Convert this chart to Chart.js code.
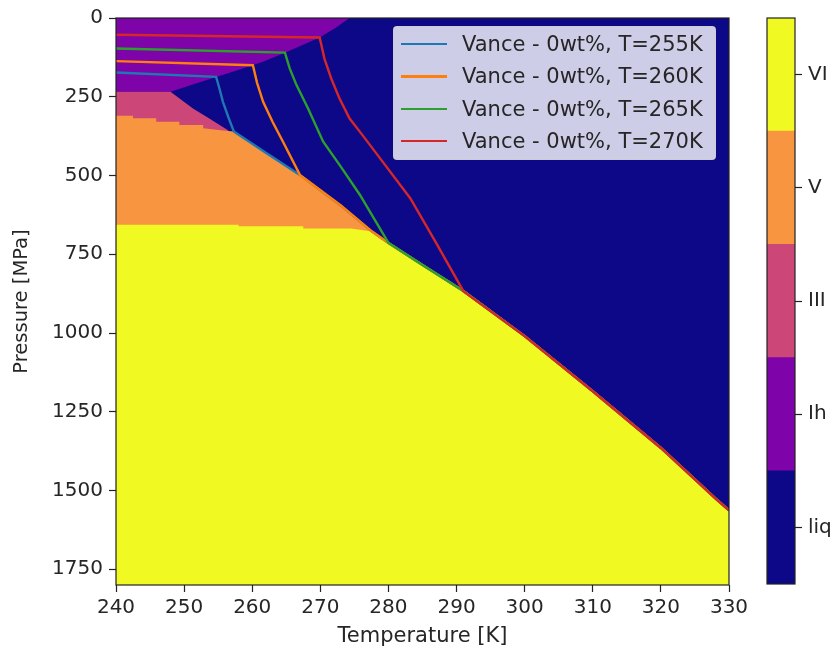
<!DOCTYPE html>
<html>
<head>
<meta charset="utf-8">
<script src="https://cdn.jsdelivr.net/npm/chart.js@4.4.1/dist/chart.umd.min.js"></script>
<style>
  body { margin: 0; background: #fff; }
  #wrap { position: relative; width: 837px; height: 657px; overflow: hidden; font-family: "DejaVu Sans", sans-serif; }
  #main { position: absolute; left: 0; top: 0; }
  #cbar { position: absolute; left: 740px; top: 0; }
  #legend {
    position: absolute; left: 393px; top: 26px; width: 321px; height: 132px;
    background: rgba(255,255,255,0.8); border: 1px solid rgba(204,204,204,0.8); border-radius: 4px;
  }
  .row { position: absolute; left: 0; height: 32px; display: flex; align-items: center;
         font-size: 21px; color: #262626; white-space: nowrap; }
  .swatch { width: 46px; height: 2.5px; margin-left: 7px; margin-right: 15px; }
</style>
</head>
<body>
<div id="wrap">
  <canvas id="main" width="760" height="657"></canvas>
  <canvas id="cbar" width="97" height="657"></canvas>
  <div id="legend"></div>
</div>
<script>
// ---- axes ----
const T_MIN = 240, T_MAX = 330;
const P_MIN = 0, P_MAX = 1800;
const T_TICKS = [240, 250, 260, 270, 280, 290, 300, 310, 320, 330];
const P_TICKS = [0, 250, 500, 750, 1000, 1250, 1500, 1750];

// ---- phases (colorbar order, bottom to top) ----
const PHASES = ["liq", "Ih", "III", "V", "VI"];
const PHASE_COLORS = ["#0d0887", "#7e03a8", "#cc4778", "#f89540", "#f0f921"];

// ---- phase boundaries ----
// liquid covers the whole grid underneath
const LIQ_T = [240, 330];
const LIQ_P = [0, 0];
// Ih: lower edge (Ih/III then Ih/liq)
const IH_T = [240, 248, 251.3, 254.7, 257.5, 260.1, 261.6, 264.8, 267.4, 269.9, 272.2, 274.3];
const IH_P = [234, 234, 211, 187, 168, 149, 139, 110, 86, 62, 32, 0];
// III: upper edge (III/Ih then III/liq)
const III_T = [240, 248, 251.3, 253.7, 256.5];
const III_P = [234, 234, 287, 319, 357];
// V: upper edge (V/III steps then melting curve)
const V_T = [240, 242.5, 242.5, 245.9, 245.9, 249.3, 249.3, 252.8, 252.8, 255.7];
const V_P = [310, 310, 318, 318, 329, 329, 340, 340, 350, 357];
// VI: upper edge (V/VI steps), joins melting curve
const VI_T = [240, 258, 258, 267.5, 267.5, 274.5, 277.6];
const VI_P = [656, 656, 661, 661, 668, 668, 678];
// melting curve (V/liq then VI/liq)
const MELT_T = [257.3, 262, 267, 273, 277.6, 280, 285, 291, 300, 310, 320, 328, 330];
const MELT_P = [360, 428, 498, 595, 678, 714, 784, 867, 1010, 1185, 1365, 1525, 1563];

// ---- Vance 0wt% profiles ----
const SERIES_LABELS = ["Vance - 0wt%, T=255K", "Vance - 0wt%, T=260K", "Vance - 0wt%, T=265K", "Vance - 0wt%, T=270K"];
const SERIES_COLORS = ["#1f77b4", "#ff7f0e", "#2ca02c", "#d62728"];
const T255_T = [240, 254.7, 255.2, 255.7, 256.5, 257.3];
const T255_P = [173, 187, 225, 266, 315, 360];
const T260_T = [240, 260.1, 260.7, 261.6, 263, 264.5, 267];
const T260_P = [137, 150, 205, 266, 330, 392, 498];
const T265_T = [240, 264.8, 265.5, 266.5, 268.2, 270.4, 273, 275.8, 280];
const T265_P = [97, 110, 160, 213, 287, 392, 472, 561, 714];
const T270_T = [240, 269.9, 270.6, 271.6, 272.8, 274.3, 276.3, 279, 283.2, 287, 291];
const T270_P = [53, 62, 129, 192, 255, 319, 375, 452, 572, 714, 867];

const pts = (ts, ps) => ts.map((t, i) => ({ x: t, y: ps[i] }));
// profile head followed by the melting curve beyond its join point
const withMelt = (ts, ps) => {
  const last = ts[ts.length - 1];
  const tail = MELT_T.map((t, i) => [t, MELT_P[i]]).filter((d) => d[0] > last + 0.01);
  return pts(ts.concat(tail.map((d) => d[0])), ps.concat(tail.map((d) => d[1])));
};

const FONT = '"DejaVu Sans", sans-serif';
Chart.defaults.font.family = FONT;
Chart.defaults.font.size = 20;
Chart.defaults.color = "#262626";

const framePlugin = {
  id: "frame",
  afterDraw(chart) {
    const { ctx, chartArea: a } = chart;
    ctx.save();
    ctx.strokeStyle = "#222";
    ctx.lineWidth = 1.2;
    ctx.strokeRect(a.left, a.top, a.right - a.left, a.bottom - a.top);
    ctx.restore();
  },
};

const region = (label, data, fillTo, color, order) => ({
  label, data, order,
  fill: { value: fillTo },
  backgroundColor: color,
  borderWidth: 0,
  pointRadius: 0,
  tension: 0,
});

const profile = (i, data) => ({
  label: SERIES_LABELS[i],
  data,
  order: 3 - i,
  borderColor: SERIES_COLORS[i],
  borderWidth: 2.4,
  pointRadius: 0,
  fill: false,
  tension: 0,
});

new Chart(document.getElementById("main"), {
  type: "line",
  data: {
    datasets: [
      profile(0, withMelt(T255_T, T255_P)),
      profile(1, withMelt(T260_T, T260_P)),
      profile(2, withMelt(T265_T, T265_P)),
      profile(3, withMelt(T270_T, T270_P)),
      region("VI", pts(VI_T, VI_P).concat(pts(MELT_T, MELT_P).filter((d) => d.x > 277.6)), P_MAX, PHASE_COLORS[4], 10),
      region("V", pts(V_T, V_P).concat(pts(MELT_T, MELT_P)), P_MAX, PHASE_COLORS[3], 11),
      region("III", pts(III_T, III_P), P_MAX, PHASE_COLORS[2], 12),
      region("Ih", pts(IH_T, IH_P), P_MIN, PHASE_COLORS[1], 13),
      region("liq", pts(LIQ_T, LIQ_P), P_MAX, PHASE_COLORS[0], 14),
    ],
  },
  options: {
    responsive: false,
    animation: false,
    layout: { padding: { top: 16, right: 31, left: 0, bottom: 0 } },
    plugins: { legend: { display: false }, tooltip: { enabled: false } },
    events: [],
    scales: {
      x: {
        type: "linear",
        min: T_MIN,
        max: T_MAX,
        afterBuildTicks: (s) => { s.ticks = T_TICKS.map((v) => ({ value: v })); },
        afterFit: (s) => { s.height = 72; },
        grid: { drawOnChartArea: false, color: "#222", tickLength: 7, tickWidth: 1.2 },
        border: { display: false },
        ticks: { padding: 4, maxRotation: 0, autoSkip: false, callback: (v) => String(v) },
        title: { display: true, text: "Temperature [K]", font: { size: 21 }, padding: { top: 0, bottom: 8 } },
      },
      y: {
        type: "linear",
        reverse: true,
        min: P_MIN,
        max: P_MAX,
        afterBuildTicks: (s) => { s.ticks = P_TICKS.map((v) => ({ value: v })); },
        afterFit: (s) => { s.width = 116; },
        grid: { drawOnChartArea: false, color: "#222", tickLength: 7, tickWidth: 1.2 },
        border: { display: false },
        ticks: { padding: 6, autoSkip: false, callback: (v) => String(v) },
        title: { display: true, text: "Pressure [MPa]", font: { size: 19.5 }, padding: { top: 10, bottom: 0 } },
      },
    },
  },
  plugins: [framePlugin],
});

// ---- colorbar ----
new Chart(document.getElementById("cbar"), {
  type: "bar",
  data: {
    labels: [""],
    datasets: PHASES.map((p, i) => ({
      label: p,
      data: [1],
      backgroundColor: PHASE_COLORS[i],
      borderWidth: 0,
      barPercentage: 1,
      categoryPercentage: 1,
      stack: "cb",
    })),
  },
  options: {
    responsive: false,
    animation: false,
    layout: { padding: { top: 15, right: 0, left: 27, bottom: 73 } },
    plugins: { legend: { display: false }, tooltip: { enabled: false } },
    events: [],
    scales: {
      x: { display: false, stacked: true },
      y: {
        position: "right",
        stacked: true,
        min: 0,
        max: PHASES.length,
        afterBuildTicks: (s) => { s.ticks = PHASES.map((p, i) => ({ value: i + 0.5 })); },
        afterFit: (s) => { s.width = 42; },
        grid: { drawOnChartArea: false, color: "#222", tickLength: 7, tickWidth: 1.2 },
        border: { display: false },
        ticks: { padding: 6, autoSkip: false, callback: (v) => PHASES[Math.floor(v)] },
      },
    },
  },
  plugins: [framePlugin],
});

// ---- legend ----
const legend = document.getElementById("legend");
legend.innerHTML = SERIES_LABELS.map((lab, i) =>
  `<div class="row" style="top:${1 + i * 32.4}px"><span class="swatch" style="background:${SERIES_COLORS[i]}"></span>${lab}</div>`
).join("");
</script>
</body>
</html>
